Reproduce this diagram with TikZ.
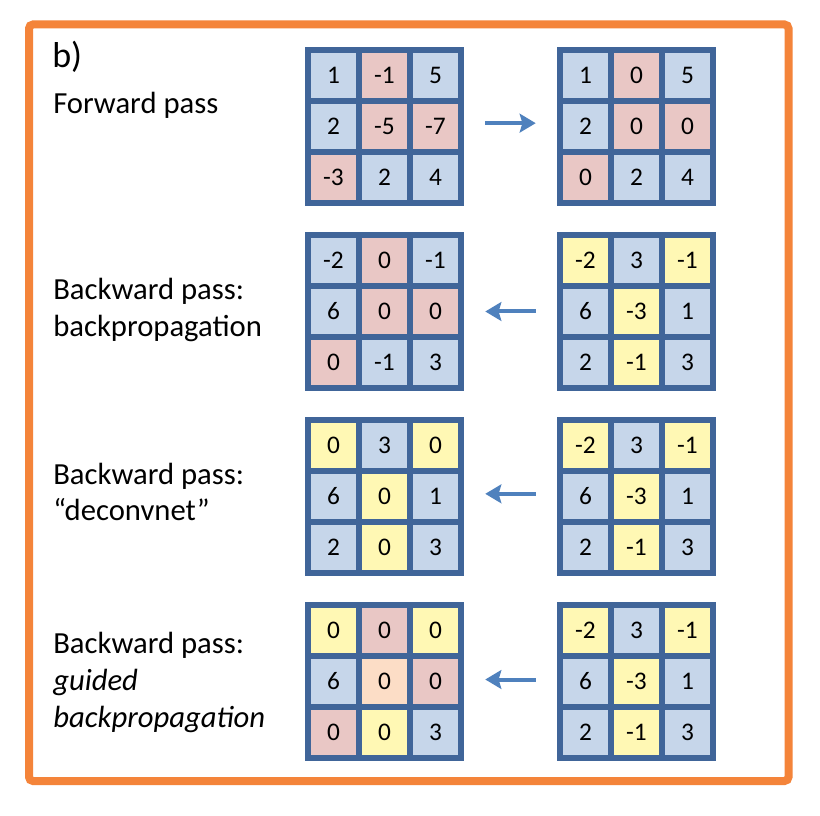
\documentclass[tikz,border=0pt]{standalone}
\usepackage{fontspec}
\setmainfont{Carlito}
\usetikzlibrary{arrows.meta}
\definecolor{frameblue}{RGB}{64,101,153}
\definecolor{cb}{RGB}{198,214,234}
\definecolor{cp}{RGB}{233,199,197}
\definecolor{cy}{RGB}{255,248,180}
\definecolor{co}{RGB}{252,221,198}
\definecolor{arrowblue}{RGB}{79,129,189}
\definecolor{orangeb}{RGB}{244,132,58}
\tikzset{
  gridframe/.style={fill=frameblue, minimum size=119.25pt, inner sep=0pt, draw=none},
  cellbox/.style={minimum size=33.75pt, inner sep=0pt, draw=none, font=\fontsize{19pt}{21pt}\selectfont},
  lbl/.style={anchor=base west, inner sep=0pt, font=\fontsize{23pt}{26pt}\selectfont},
  passarrow/.style={draw=arrowblue, line width=3pt, -{Stealth[length=12pt,width=14pt,inset=2pt]}, shorten <=15.75pt, shorten >=15.75pt}
}
\newcommand{\drawgrid}[4]{%
  \node[gridframe] (#1) at (#2+79.5,#3+79.5) {};
  \foreach \v/\c [count=\i from 0] in {#4} {
    \pgfmathtruncatemacro\rr{\i/3}
    \pgfmathtruncatemacro\cc{mod(\i,3)}
    \node[cellbox, fill=\c] (#1-\rr-\cc) at (#2+28.5+\cc*51, #3+28.5+\rr*51) {\v};
  }%
}
\begin{document}
\begin{tikzpicture}[x=0.75pt,y=-0.75pt]
\useasboundingbox (0,0) rectangle (820,816);
\fill[white] (0,0) rectangle (820,816);
\draw[orangeb, line width=6pt, rounded corners=3pt] (29,24.5) rectangle (788.5,781);

\node[lbl, font=\fontsize{27pt}{30pt}\selectfont] (tb) at (52,68) {b)};
\node[lbl] (t1) at (53,114) {Forward pass};
\node[lbl] (t2a) at (53,300) {Backward pass:};
\node[lbl] (t2b) at (53,336) {backpropagation};
\node[lbl] (t3a) at (53,484) {Backward pass:};
\node[lbl] (t3b) at (53,520) {“deconvnet”};
\node[lbl] (t4a) at (53,653) {Backward pass:};
\node[lbl] (t4b) at (53,690) {\itshape guided};
\node[lbl] (t4c) at (53,727) {\itshape backpropagation};

\drawgrid{L1}{305}{47}{1/cb,-1/cp,5/cb,2/cb,-5/cp,-7/cp,-3/cp,2/cb,4/cb}
\drawgrid{R1}{557}{47}{1/cb,0/cp,5/cb,2/cb,0/cp,0/cp,0/cp,2/cb,4/cb}
\drawgrid{L2}{305}{232}{-2/cb,0/cp,-1/cb,6/cb,0/cp,0/cp,0/cp,-1/cb,3/cb}
\drawgrid{R2}{557}{232}{-2/cy,3/cb,-1/cy,6/cb,-3/cy,1/cb,2/cb,-1/cy,3/cb}
\drawgrid{L3}{305}{417}{0/cy,3/cb,0/cy,6/cb,0/cy,1/cb,2/cb,0/cy,3/cb}
\drawgrid{R3}{557}{417}{-2/cy,3/cb,-1/cy,6/cb,-3/cy,1/cb,2/cb,-1/cy,3/cb}
\drawgrid{L4}{305}{602}{0/cy,0/cp,0/cy,6/cb,0/co,0/cp,0/cp,0/cy,3/cb}
\drawgrid{R4}{557}{602}{-2/cy,3/cb,-1/cy,6/cb,-3/cy,1/cb,2/cb,-1/cy,3/cb}

\draw[passarrow] ([yshift=2.5pt]L1.east) -- ([yshift=2.5pt]R1.west);
\draw[passarrow] (R2.west) -- (L2.east);
\draw[passarrow] ([yshift=2pt]R3.west) -- ([yshift=2pt]L3.east);
\draw[passarrow] ([yshift=1.5pt]R4.west) -- ([yshift=1.5pt]L4.east);
\end{tikzpicture}
\end{document}
